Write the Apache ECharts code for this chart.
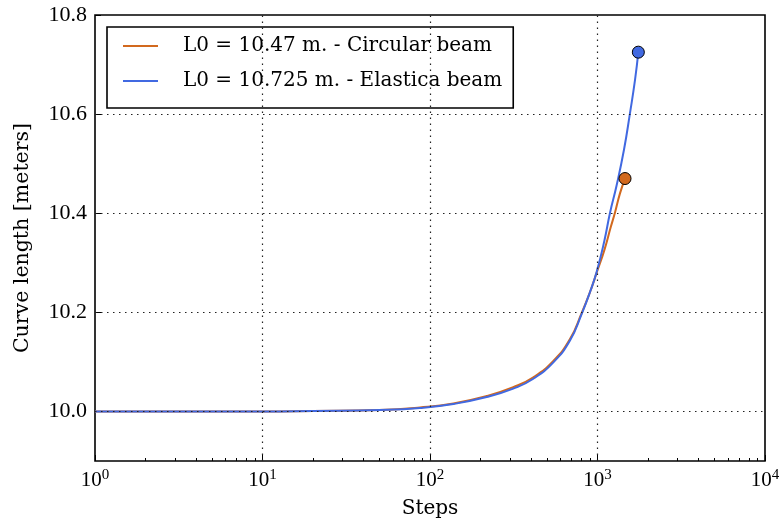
<!DOCTYPE html>
<html>
<head>
<meta charset="utf-8">
<script src="https://cdn.jsdelivr.net/npm/echarts@6/dist/echarts.min.js"></script>
<style>
html,body{margin:0;padding:0;background:#fff;}
#chart{width:783px;height:531px;}
</style>
</head>
<body>
<div id="chart"></div>
<script>
// ---- data ----
var circularSteps  = [1, 10, 20, 50, 87, 138, 218, 314, 414, 545, 685, 805, 900, 989, 1100, 1200, 1271, 1362, 1460];
var circularLength = [10.000, 10.000, 10.001, 10.003, 10.008, 10.016, 10.031, 10.049, 10.069, 10.102, 10.146, 10.199, 10.240, 10.280, 10.326, 10.372, 10.401, 10.440, 10.470];
var elasticaSteps  = [1, 10, 20, 50, 87, 138, 218, 314, 414, 545, 685, 805, 900, 989, 1100, 1188, 1300, 1439, 1563, 1675, 1753];
var elasticaLength = [10.000, 10.000, 10.001, 10.003, 10.007, 10.015, 10.029, 10.046, 10.066, 10.099, 10.143, 10.197, 10.240, 10.282, 10.345, 10.401, 10.456, 10.528, 10.602, 10.669, 10.725];
var seriesNames = ['L0 = 10.47 m. - Circular beam', 'L0 = 10.725 m. - Elastica beam'];
var xMajorTicks = [1, 10, 100, 1000, 10000];
var xMinorTicks = [2,3,4,5,6,7,8,9,20,30,40,50,60,70,80,90,200,300,400,500,600,700,800,900,2000,3000,4000,5000,6000,7000,8000,9000];
var yTicks = [10.0, 10.2, 10.4, 10.6, 10.8];
var yMin = 9.9, yMax = 10.8;

function pairs(xs, ys){ return xs.map(function(x,i){ return [x, ys[i]]; }); }
function last(xs, ys){ return [[xs[xs.length-1], ys[ys.length-1]]]; }

var ORANGE = '#D2691E', BLUE = '#4169E1';
var NUMFONT = 'Liberation Serif';
var TXTFONT = 'DejaVu Serif';

var gridMarks = [];
xMajorTicks.slice(1, -1).forEach(function(v){ gridMarks.push({xAxis: v}); });
yTicks.slice(0, -1).forEach(function(v){ gridMarks.push({yAxis: v}); });

var chart = echarts.init(document.getElementById('chart'), null, {renderer:'canvas'});
chart.setOption({
  animation: false,
  backgroundColor: '#fff',
  textStyle: {fontFamily: TXTFONT},
  grid: {left: 95, right: 18, top: 15, bottom: 70, show: true, borderColor: '#000', borderWidth: 1.6, backgroundColor: 'transparent', containLabel: false},
  legend: {
    data: seriesNames,
    orient: 'vertical',
    left: 107, top: 27,
    padding: [9, 11, 17, 16],
    icon: 'rect',
    itemWidth: 35, itemHeight: 2, itemGap: 15,
    backgroundColor: '#fff',
    borderColor: '#000', borderWidth: 1.6, borderRadius: 0,
    textStyle: {fontFamily: TXTFONT, fontSize: 20, lineHeight: 20, color: '#000', padding: [0, 0, 0, 20]},
    selectedMode: false
  },
  xAxis: [{
    type: 'log', logBase: 10, min: 1, max: 10000,
    name: 'Steps', nameLocation: 'middle', nameGap: 38,
    nameTextStyle: {fontFamily: TXTFONT, fontSize: 20, color: '#000'},
    axisLine: {show: false},
    axisTick: {show: true, inside: true, length: 6, lineStyle: {color: '#000', width: 1}, customValues: xMajorTicks},
    axisLabel: {
      customValues: xMajorTicks, margin: 7, color: '#000',
      formatter: function(v){ return '{b|10}{e|' + Math.round(Math.log10(v)) + '}'; },
      rich: {b: {fontFamily: NUMFONT, fontSize: 21, color: '#000'}, e: {fontFamily: NUMFONT, fontSize: 15, color: '#000', padding: [0, 0, 10, 0]}}
    },
    splitLine: {show: false},
    minorTick: {show: false}
  }, {
    type: 'log', logBase: 10, min: 1, max: 10000, position: 'bottom',
    axisLine: {show: false},
    axisTick: {show: true, inside: true, length: 3, lineStyle: {color: '#000', width: 1}, customValues: xMinorTicks},
    axisLabel: {show: false},
    splitLine: {show: false}
  }],
  yAxis: {
    type: 'value', min: yMin, max: yMax,
    name: 'Curve length [meters]', nameLocation: 'middle', nameGap: 62,
    nameTextStyle: {fontFamily: TXTFONT, fontSize: 20.5, color: '#000'},
    axisLine: {show: false},
    axisTick: {show: true, inside: true, length: 6, lineStyle: {color: '#000', width: 1}, customValues: yTicks},
    axisLabel: {customValues: yTicks, margin: 8, color: '#000', fontFamily: NUMFONT, fontSize: 22,
      formatter: function(v){ return v.toFixed(1); }},
    splitLine: {show: false}
  },
  series: [{
    name: 'gridlines', type: 'line', data: [], z: 1, silent: true,
    markLine: {silent: true, symbol: 'none', label: {show: false}, animation: false,
      lineStyle: {color: '#222', width: 1.2, type: [1.5, 4.5]}, data: gridMarks}
  }, {
    name: seriesNames[0], type: 'line', data: pairs(circularSteps, circularLength),
    smooth: 0.5, showSymbol: false, symbol: 'none', z: 3,
    lineStyle: {color: ORANGE, width: 2}, itemStyle: {color: ORANGE}
  }, {
    name: seriesNames[1], type: 'line', data: pairs(elasticaSteps, elasticaLength),
    smooth: 0.5, showSymbol: false, symbol: 'none', z: 4,
    lineStyle: {color: BLUE, width: 2}, itemStyle: {color: BLUE}
  }, {
    name: 'endC', type: 'scatter', data: last(circularSteps, circularLength), z: 5,
    symbolSize: 12, itemStyle: {color: ORANGE, borderColor: '#000', borderWidth: 1, opacity: 1}
  }, {
    name: 'endE', type: 'scatter', data: last(elasticaSteps, elasticaLength), z: 5,
    symbolSize: 12, itemStyle: {color: BLUE, borderColor: '#000', borderWidth: 1, opacity: 1}
  }]
});
</script>
</body>
</html>
